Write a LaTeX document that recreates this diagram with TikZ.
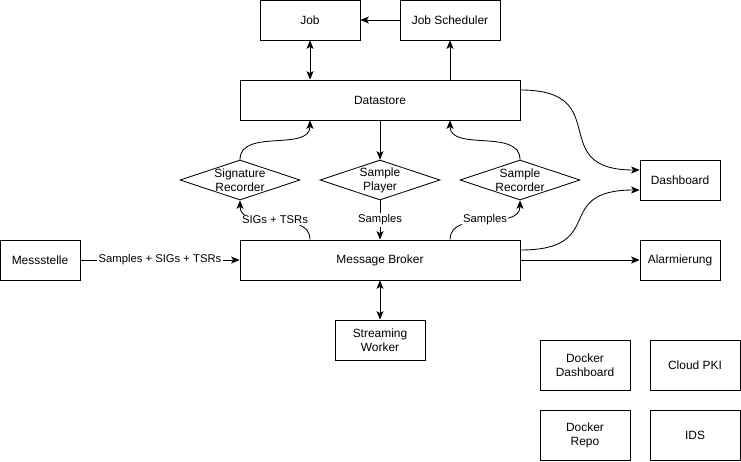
\documentclass[tikz,border=0pt]{standalone}
\usepackage{fontspec}
\setmainfont{Liberation Sans}
\usetikzlibrary{shapes.geometric, arrows.meta}
\tikzset{
  box/.style={draw, line width=.6pt, align=center, minimum width=2cm, minimum height=1cm, inner sep=1pt, font=\fontsize{8.5}{10}\selectfont},
  wide/.style={box, minimum width=7cm},
  rec/.style={draw, diamond, line width=.6pt, minimum width=3cm, minimum height=1cm, inner sep=0pt},
  reclbl/.style={align=center, inner sep=0pt, font=\fontsize{8.5}{10}\selectfont},
  lbl/.style={fill=white, inner sep=1pt, font=\fontsize{8}{9}\selectfont}
}
\begin{document}
\begin{tikzpicture}[>={Stealth[length=6pt, width=5pt, inset=1.5pt]}, x=.025cm, y=-.025cm, line width=.6pt]
\useasboundingbox (0,0) rectangle (741,461);
\node[box, minimum width=2.5cm](job) at (310,20){Job};
\node[box, minimum width=2.5cm](sched) at (450,20){Job Scheduler};
\node[wide](store) at (380,100){Datastore};
\node[rec, label={[reclbl]center:{Signature\\Recorder}}](sigrec) at (240,180){};
\node[rec, label={[reclbl]center:{Sample\\Player}}](player) at (380,180){};
\node[rec, label={[reclbl]center:{Sample\\Recorder}}](samprec) at (520,180){};
\node[box](dash) at (680,180){Dashboard};
\node[box](mess) at (40,260){Messstelle};
\node[wide](broker) at (380,260){Message Broker};
\node[box](alarm) at (680,260){Alarmierung};
\node[box, minimum width=2.25cm](worker) at (380,340){Streaming\\Worker};
\node[box, minimum width=2.25cm, minimum height=1.25cm](ddash) at (585,365){Docker\\Dashboard};
\node[box, minimum width=2.25cm, minimum height=1.25cm](pki) at (695,365){Cloud PKI};
\node[box, minimum width=2.25cm, minimum height=1.25cm](repo) at (585,435){Docker\\Repo};
\node[box, minimum width=2.25cm, minimum height=1.25cm](ids) at (695,435){IDS};
\draw[->](sched)--(job);
\draw[<->](job.south)--(job.south |- store.north);
\draw[->](sched.south |- store.north)--(sched.south);
\draw[->](store)--(player);
\draw[->](player)--node[lbl]{Samples}(broker);
\draw[->](mess)--node[lbl]{Samples + SIGs + TSRs}(broker);
\draw[<->](broker)--(worker);
\draw[->](broker.east)--(alarm.west);
\draw[->]([xshift=-1.75cm]broker.north) to[out=90, in=-90] node[lbl]{SIGs + TSRs} (sigrec.south);
\draw[->](sigrec.north) to[out=90, in=-90] ([xshift=-1.75cm]store.south);
\draw[->]([xshift=1.75cm]broker.north) to[out=90, in=-90] node[lbl]{Samples} (samprec.south);
\draw[->](samprec.north) to[out=90, in=-90] ([xshift=1.75cm]store.south);
\draw[->]([yshift=.25cm]store.east) to[out=0, in=180, looseness=1.7] ([yshift=.25cm]dash.west);
\draw[->]([yshift=.25cm]broker.east) to[out=0, in=180, looseness=1.7] ([yshift=-.25cm]dash.west);
\end{tikzpicture}
\end{document}
